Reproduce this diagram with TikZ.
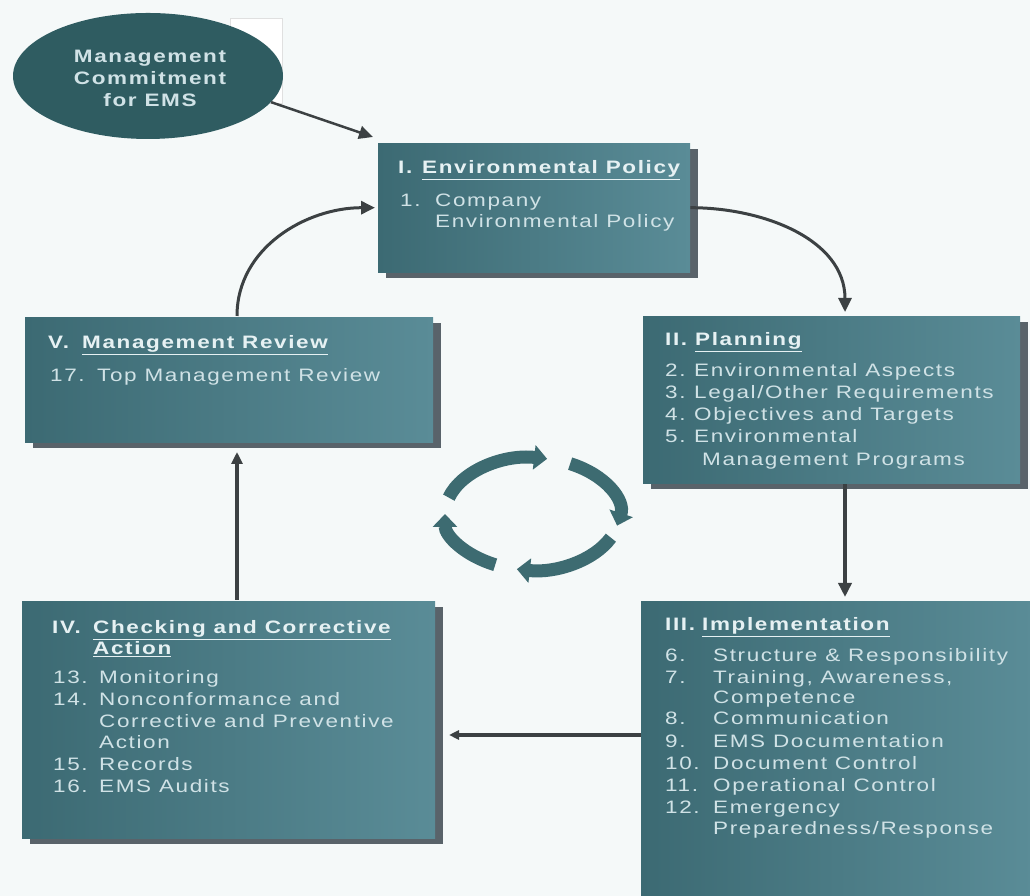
\documentclass[tikz,border=0pt]{standalone}
\usepackage{fontspec}
\setmainfont[FakeStretch=1.25,LetterSpace=9]{Liberation Sans}
\usetikzlibrary{arrows.meta,shapes.geometric,calc,shadows}
\definecolor{bg}{HTML}{F5F9F9}
\definecolor{boxL}{HTML}{3C6A73}
\definecolor{boxR}{HTML}{5A8C97}
\definecolor{shad}{HTML}{59636A}
\definecolor{txtc}{HTML}{D0E2E6}
\definecolor{ttlc}{HTML}{E6F1F3}
\definecolor{ellc}{HTML}{2F5C61}
\definecolor{cyc}{HTML}{3D6B71}
\definecolor{arr}{HTML}{3C4143}
\newcommand\tline[4]{\node[txt,anchor=base west] (#1) at (#2,#3) {#4};}
\newcommand\tthead[4]{\node[ttl,anchor=base west] (#1) at (#2,#3) {#4};}
\begin{document}
\begin{tikzpicture}[x=1pt,y=1pt,
  box/.style={draw=none,left color=boxL,right color=boxR,inner sep=0,anchor=north west,
    drop shadow={shadow xshift=8pt,shadow yshift=-6pt,fill=shad,opacity=1}},
  txt/.style={inner sep=0,text=txtc,font=\fontsize{18pt}{21pt}\selectfont},
  ttl/.style={inner sep=0,text=ttlc,font=\fontsize{18pt}{21pt}\selectfont\bfseries},
  conn/.style={draw=arr,line width=3pt},
  tip/.style={-{Triangle[length=14pt,width=13pt]}},
  cyarc/.style={draw=cyc,line width=13pt,-{Triangle[length=13pt,width=24pt]}}]
\fill[bg] (0,0) rectangle (1030,896);
\useasboundingbox (0,0) rectangle (1030,896);
% faint rectangle behind ellipse
\draw[draw=black!12,fill=white] (230,878) rectangle (282,793);
% ellipse
\node[ellipse,fill=ellc,minimum width=270pt,minimum height=126pt,inner sep=0] (ell) at (148,820) {};
\node[inner sep=0,align=center,text=txtc,font=\fontsize{18pt}{22pt}\selectfont\bfseries] (elltxt) at (150,818) {Management\\Commitment\\for EMS};
% boxes
\node[box,minimum width=312pt,minimum height=129pt] (b1) at (378,753) {};
\node[box,minimum width=377pt,minimum height=167pt] (b2) at (643,580) {};
\node[box,minimum width=392pt,minimum height=300pt] (b3) at (641,295) {};
\node[box,minimum width=413pt,minimum height=237pt] (b4) at (22,295) {};
\node[box,minimum width=408pt,minimum height=125pt] (b5) at (25,579) {};
% Box I
\tthead{h1a}{398}{722}{I.}
\tthead{h1b}{422}{722}{\underline{Environmental Policy}}
\tline{n1}{400}{689}{1.}
\tline{i1}{435}{689}{Company}
\tline{i1b}{435}{668}{Environmental Policy}
% Box II
\tthead{h2a}{665}{550}{II.}
\tthead{h2b}{695}{550}{\underline{Planning}}
\tline{n2}{665}{519}{2.}\tline{i2}{694}{519}{Environmental Aspects}
\tline{n3}{665}{497}{3.}\tline{i3}{694}{497}{Legal/Other Requirements}
\tline{n4}{665}{475}{4.}\tline{i4}{694}{475}{Objectives and Targets}
\tline{n5}{665}{453}{5.}\tline{i5}{694}{453}{Environmental}
\tline{i5b}{702}{430}{Management Programs}
% Box III
\tthead{h3a}{665}{265}{III.}
\tthead{h3b}{702}{265}{\underline{Implementation}}
\tline{n6}{665}{234}{6.}\tline{i6}{713}{234}{Structure \& Responsibility}
\tline{n7}{665}{212}{7.}\tline{i7}{713}{212}{Training, Awareness,}
\tline{i7b}{713}{192}{Competence}
\tline{n8}{665}{171}{8.}\tline{i8}{713}{171}{Communication}
\tline{n9}{665}{148}{9.}\tline{i9}{713}{148}{EMS Documentation}
\tline{n10}{665}{126}{10.}\tline{i10}{713}{126}{Document Control}
\tline{n11}{665}{104}{11.}\tline{i11}{713}{104}{Operational Control}
\tline{n12}{665}{82}{12.}\tline{i12}{713}{82}{Emergency}
\tline{i12b}{713}{61}{Preparedness/Response}
% Box IV
\tthead{h4a}{52}{262}{IV.}
\tthead{h4b}{93}{262}{\underline{Checking and Corrective}}
\tthead{h4c}{93}{241}{\underline{Action}}
\tline{n13}{53}{212}{13.}\tline{i13}{99}{212}{Monitoring}
\tline{n14}{53}{190}{14.}\tline{i14}{99}{190}{Nonconformance and}
\tline{i14b}{99}{168}{Corrective and Preventive}
\tline{i14c}{99}{147}{Action}
\tline{n15}{53}{125}{15.}\tline{i15}{99}{125}{Records}
\tline{n16}{53}{103}{16.}\tline{i16}{99}{103}{EMS Audits}
% Box V
\tthead{h5a}{48}{547}{V.}
\tthead{h5b}{82}{547}{\underline{Management Review}}
\tline{n17}{50}{514}{17.}\tline{i17}{97}{514}{Top Management Review}
% connector coordinates
\coordinate (a1e) at (373,759);
\coordinate (a2e) at (845,584);
\coordinate (a3s) at (237,580);
\coordinate (a4s) at (845,412);
\coordinate (a4e) at (845,299);
\coordinate (a5s) at (641,161);
\coordinate (a5e) at (449,161);
\coordinate (a6s) at (237,296);
\coordinate (a6e) at (237,444);
% connectors
\draw[conn,line width=2.5pt,tip] (ell.-12) -- (a1e);
\draw[conn,tip] (b1.east) to[out=0,in=90] (a2e);
\draw[conn,tip] (a3s) to[out=90,in=180] ([xshift=-3pt]b1.west);
\draw[conn,line width=4pt,tip] (a4s) -- (a4e);
\draw[conn,line width=3.5pt,-{Triangle[length=10pt,width=9pt]}] (a5s) -- (a5e);
\draw[conn,line width=4pt,-{Triangle[length=12pt,width=11pt]}] (a6s) -- (a6e);
% cycle arrows
\coordinate (cc) at (532,382);
\draw[cyarc] ($(cc)+(163:87 and 56)$) arc[start angle=163,end angle=80,x radius=87,y radius=56];
\draw[cyarc] ($(cc)+(64:87 and 56)$) arc[start angle=64,end angle=-12,x radius=87,y radius=56];
\draw[cyarc] ($(cc)+(-25:87 and 56)$) arc[start angle=-25,end angle=-100,x radius=87,y radius=56];
\draw[cyarc] ($(cc)+(-115:87 and 56)$) arc[start angle=-115,end angle=-180,x radius=87,y radius=56];
\end{tikzpicture}
\end{document}
